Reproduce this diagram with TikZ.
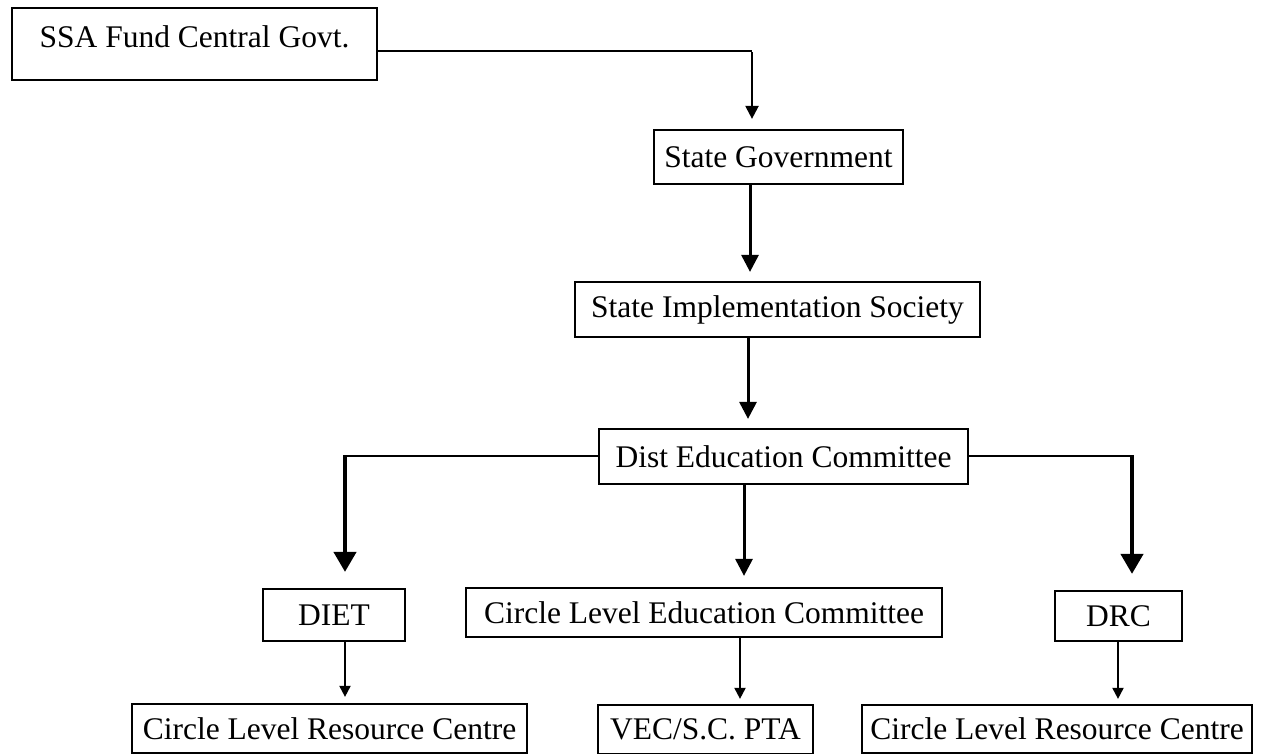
\documentclass[tikz,border=0pt]{standalone}
\usepackage{fontspec}
\setmainfont{Liberation Serif}
\usetikzlibrary{arrows.meta}
\begin{document}
\begin{tikzpicture}[x=1pt,y=-1pt,
  box/.style={draw, line width=2.2pt, inner sep=0pt, align=center,
    font=\fontsize{31.5}{36}\selectfont},
  hline/.style={line width=2.2pt},
  arrowA/.style={line width=2.2pt, -{Triangle[length=13pt,width=13pt]}},
  arrowB/.style={line width=3pt, -{Triangle[length=17pt,width=17pt]}},
  arrowC/.style={line width=4.2pt, -{Triangle[length=20pt,width=22pt]}},
  arrowD/.style={line width=1.9pt, -{Triangle[length=11pt,width=11pt]}}]
\fill[white] (0,0) rectangle (1269,754);
\useasboundingbox (0,0) rectangle (1269,754);

\node[box, minimum width=365pt, minimum height=72pt, text depth=14pt] (ssa) at (194.5,44) {SSA Fund Central Govt.};
\node[box, minimum width=249pt, minimum height=54pt] (sg) at (778.5,157) {State Government};
\node[box, minimum width=405pt, minimum height=55pt] (sis) at (777.5,309.5) {State Implementation Society};
\node[box, minimum width=369pt, minimum height=55pt] (de) at (783.5,456.5) {Dist Education Committee};
\node[box, minimum width=142pt, minimum height=52pt] (diet) at (334,615) {DIET};
\node[box, minimum width=476pt, minimum height=49pt] (clec) at (704,612.5) {Circle Level Education Committee};
\node[box, minimum width=127pt, minimum height=50pt] (drc) at (1118.5,616) {DRC};
\node[box, minimum width=395pt, minimum height=49pt] (clrca) at (329.5,728.5) {Circle Level Resource Centre};
\node[box, minimum width=215pt, minimum height=49pt] (vec) at (705.5,729.5) {VEC/S.C. PTA};
\node[box, minimum width=390pt, minimum height=48pt] (clrcb) at (1057,729) {Circle Level Resource Centre};

% SSA -> State Government
\coordinate (c1) at (752,51);
\draw[hline] (ssa.east |- c1) -- (c1);
\draw[arrowA, shorten >=10pt] ([yshift=-1.1pt]c1) -- (sg.north -| c1);

% State Government -> SIS
\coordinate (c2) at (750,0);
\draw[arrowB, shorten >=9pt] (sg.south -| c2) -- (sis.north -| c2);

% SIS -> Dist Education
\coordinate (c3) at (748,0);
\draw[arrowB, shorten >=9pt] (sis.south -| c3) -- (de.north -| c3);

% Dist Education -> CLEC
\coordinate (c4) at (744,0);
\draw[arrowB, shorten >=11pt] (de.south -| c4) -- (clec.north -| c4);

% Dist Education -> DIET
\coordinate (cl) at (345,456);
\draw[hline] (de.west |- cl) -- ([xshift=-2.1pt]cl);
\draw[arrowC, shorten >=16pt] ([yshift=-1.1pt]cl) -- (diet.north -| cl);

% Dist Education -> DRC
\coordinate (cr) at (1132,456);
\draw[hline] (de.east |- cr) -- ([xshift=2.1pt]cr);
\draw[arrowC, shorten >=16pt] ([yshift=-1.1pt]cr) -- (drc.north -| cr);

% bottom arrows
\coordinate (c5) at (345,0);
\draw[arrowD, shorten >=6pt] (diet.south -| c5) -- (clrca.north -| c5);
\coordinate (c6) at (740,0);
\draw[arrowD, shorten >=5pt] (clec.south -| c6) -- (vec.north -| c6);
\coordinate (c7) at (1118,0);
\draw[arrowD, shorten >=5pt] (drc.south -| c7) -- (clrcb.north -| c7);
\end{tikzpicture}
\end{document}
